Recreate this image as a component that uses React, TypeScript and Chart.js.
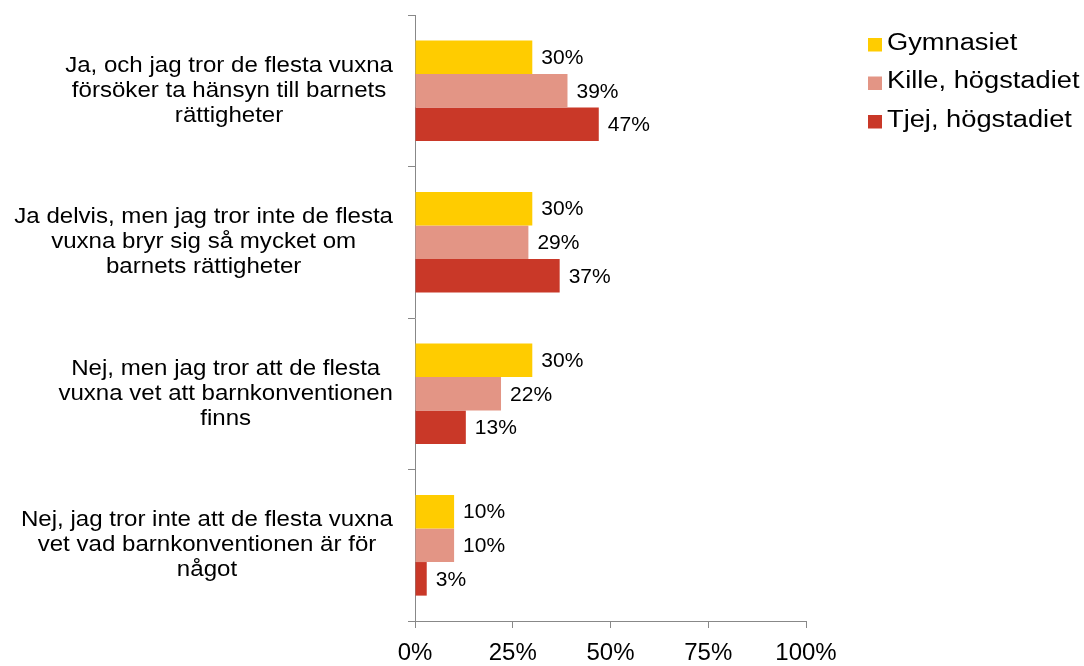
import React, { useEffect, useRef } from "react";
import { Chart, registerables } from "chart.js";

Chart.register(...registerables);

const categories: string[][] = [
  ["Ja, och jag tror de flesta vuxna", "försöker ta hänsyn till barnets", "rättigheter"],
  ["Ja delvis, men jag tror inte de flesta", "vuxna bryr sig så mycket om", "barnets rättigheter"],
  ["Nej, men jag tror att de flesta", "vuxna vet att barnkonventionen", "finns"],
  ["Nej, jag tror inte att de flesta vuxna", "vet vad barnkonventionen är för", "något"],
];

const seriesNames = ["Gymnasiet", "Kille, högstadiet", "Tjej, högstadiet"];
const gymnasiet = [30, 30, 30, 10];
const killeHogstadiet = [39, 29, 22, 10];
const tjejHogstadiet = [47, 37, 13, 3];
const seriesColors = ["#FFCC00", "#E39585", "#C93828"];
const xTicks = [0, 25, 50, 75, 100];

const FONT = "'Liberation Sans', Arial, Helvetica, sans-serif";

function fillScaled(ctx: any, text: string, x: number, y: number, sx: number, align: string) {
  ctx.save();
  ctx.translate(x, y);
  ctx.scale(sx, 1);
  ctx.textAlign = align;
  ctx.fillText(text, 0, 0);
  ctx.restore();
}

const customDraw = {
  id: "customDraw",
  afterDraw(chart: any) {
    const ctx = chart.ctx;
    const area = chart.chartArea;
    const yScale = chart.scales.y;
    ctx.save();
    // category labels
    ctx.fillStyle = "#000";
    ctx.font = `22.5px ${FONT}`;
    ctx.textBaseline = "middle";
    const sxCat = 1.07;
    const lineH = 25;
    categories.forEach((lines, i) => {
      const cy = yScale.getPixelForValue(i);
      const widest = Math.max(...lines.map((l) => ctx.measureText(l).width)) * sxCat;
      const right = area.left - 22;
      const cx = right - widest / 2;
      const startY = cy - ((lines.length - 1) * lineH) / 2;
      lines.forEach((l, j) => fillScaled(ctx, l, cx, startY + j * lineH, sxCat, "center"));
    });
    // data labels
    ctx.font = `21px ${FONT}`;
    ctx.textAlign = "left";
    chart.data.datasets.forEach((ds: any, di: number) => {
      const meta = chart.getDatasetMeta(di);
      meta.data.forEach((bar: any, bi: number) => {
        ctx.fillText(`${ds.data[bi]}%`, bar.x + 9, bar.y + 1);
      });
    });
    // legend
    ctx.font = `23.5px ${FONT}`;
    const lx = area.right + 62;
    seriesNames.forEach((name, i) => {
      const cy = 43.5 + i * 38.5;
      ctx.fillStyle = seriesColors[i];
      ctx.fillRect(lx, cy - 5.5, 14, 13.5);
      ctx.fillStyle = "#000";
      fillScaled(ctx, name, lx + 19, cy, 1.16, "left");
    });
    ctx.restore();
  },
};

export default function App() {
  const ref = useRef<HTMLCanvasElement>(null);
  useEffect(() => {
    if (!ref.current) return;
    const chart = new Chart(ref.current, {
      type: "bar",
      data: {
        labels: categories.map((c) => c.join(" ")),
        datasets: [
          { label: seriesNames[0], data: gymnasiet, backgroundColor: seriesColors[0] },
          { label: seriesNames[1], data: killeHogstadiet, backgroundColor: seriesColors[1] },
          { label: seriesNames[2], data: tjejHogstadiet, backgroundColor: seriesColors[2] },
        ],
      },
      options: {
        indexAxis: "y",
        responsive: false,
        animation: false,
        datasets: { bar: { categoryPercentage: 0.665, barPercentage: 1 } },
        layout: { padding: { left: 408, top: 15, right: 278, bottom: -12 } },
        plugins: { legend: { display: false }, tooltip: { enabled: false } },
        scales: {
          x: {
            min: 0,
            max: 100,
            afterBuildTicks: (scale: any) => {
              scale.ticks = xTicks.map((v) => ({ value: v }));
            },
            ticks: {
              callback: (v: any) => `${v}%`,
              color: "#000",
              font: { family: FONT, size: 24, lineHeight: 1 },
              padding: 13,
              maxRotation: 0,
            },
            grid: { drawOnChartArea: false, drawTicks: true, tickLength: 7, color: "#888" },
            border: { display: true, color: "#888" },
          },
          y: {
            ticks: { display: false },
            grid: { drawOnChartArea: false, drawTicks: true, tickLength: 7, color: "#888", offset: true },
            border: { display: true, color: "#888" },
          },
        },
      },
      plugins: [customDraw],
    } as any);
    return () => chart.destroy();
  }, []);
  return (
    <div style={{ position: "fixed", left: 0, top: 0, width: 1084, height: 666, background: "#fff" }}>
      <canvas ref={ref} width={1084} height={666} style={{ display: "block" }} />
    </div>
  );
}
